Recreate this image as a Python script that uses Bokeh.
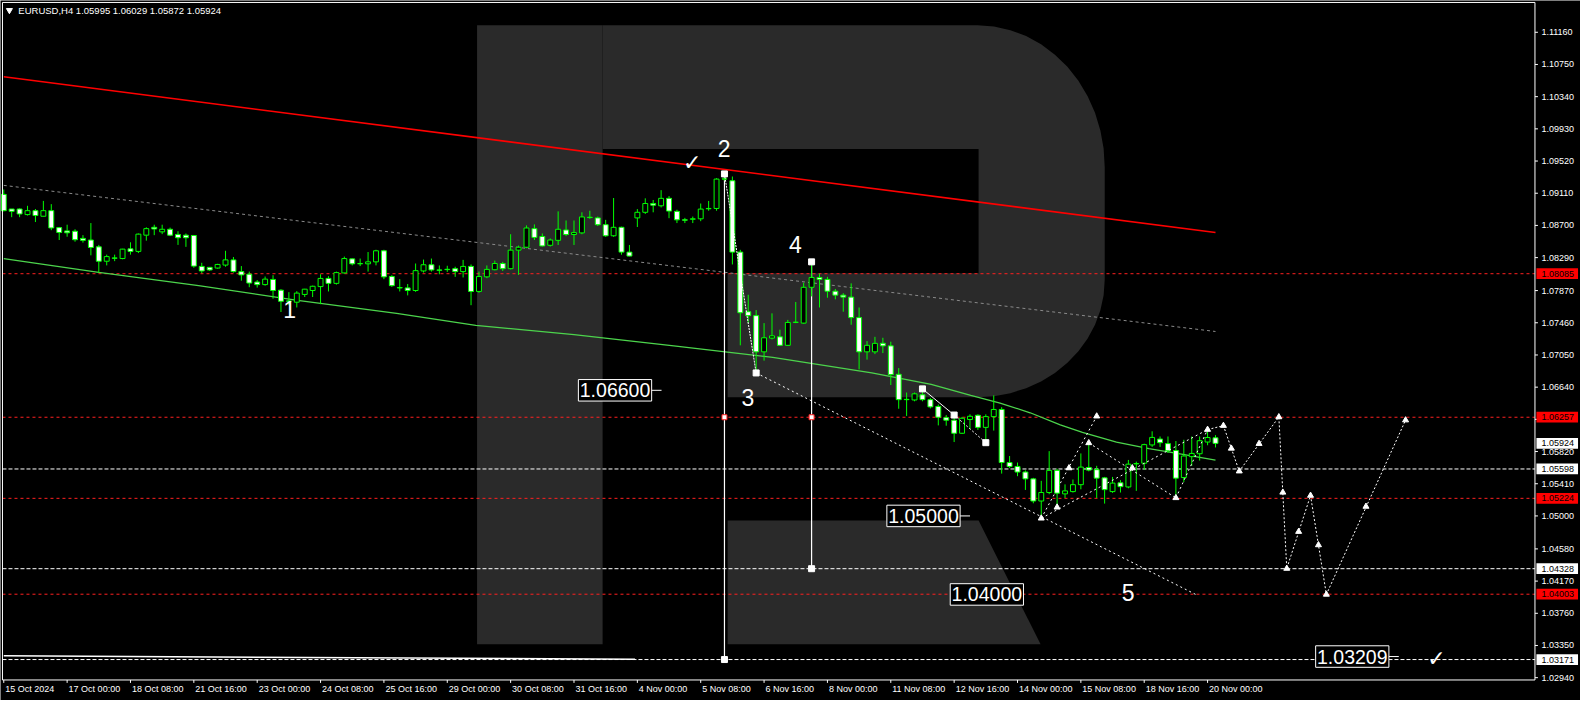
import math
from bokeh.plotting import figure
from bokeh.models import Range1d, ColumnDataSource
from bokeh.core.properties import value
from bokeh.embed import file_html
from bokeh.resources import INLINE

# ---------------- data ----------------
open_ = [1.09095,1.08909,1.08909,1.08838,1.08888,1.08817,1.08888,1.08672,1.08630,1.08626,
 1.08535,1.08514,1.08427,1.08244,1.08286,1.08278,1.08402,1.08369,1.08576,1.08676,
 1.08618,1.08651,1.08585,1.08576,1.08572,1.08178,1.08166,1.08157,1.08195,1.08261,
 1.08112,1.08079,1.07979,1.07946,1.08012,1.07875,1.07734,1.07722,1.07821,1.07871,
 1.07921,1.08025,1.07962,1.08095,1.08274,1.08211,1.08211,1.08236,1.08377,1.08049,
 1.07908,1.07904,1.07871,1.08120,1.08199,1.08133,1.08141,1.08149,1.08112,1.08178,
 1.07859,1.08045,1.08136,1.08215,1.08149,1.08385,1.08422,1.08659,1.08559,1.08447,
 1.08510,1.08642,1.08584,1.08605,1.08804,1.08796,1.08709,1.08568,1.08676,1.08360,
 1.08796,1.08867,1.08979,1.08950,1.09045,1.08879,1.08771,1.08779,1.08784,1.08912,
 1.08916,1.09290,1.09269,1.08360,1.07601,1.07551,1.07090,1.07265,1.07281,1.07173,
 1.07464,1.07456,1.07912,1.08037,1.08012,1.07862,1.07812,1.07787,1.07526,1.07090,
 1.07090,1.07199,1.07166,1.06804,1.06481,1.06477,1.06543,1.06481,1.06394,1.06252,
 1.06219,1.06053,1.06228,1.06282,1.06128,1.06265,1.06356,1.05680,1.05630,1.05559,
 1.05472,1.05190,1.05298,1.05580,1.05281,1.05310,1.05398,1.05617,1.05589,1.05485,
 1.05310,1.05422,1.05369,1.05663,1.05671,1.05904,1.05979,1.05921,1.05833,1.05489,
 1.05755,1.05792,1.05941,1.05995]
high = [1.09157,1.08909,1.08917,1.08950,1.08909,1.09012,1.08971,1.08680,1.08709,1.08651,
 1.08576,1.08730,1.08452,1.08328,1.08328,1.08402,1.08485,1.08597,1.08676,1.08709,
 1.08709,1.08672,1.08626,1.08597,1.08576,1.08224,1.08170,1.08211,1.08377,1.08298,
 1.08182,1.08112,1.08004,1.08049,1.08066,1.07888,1.07850,1.07863,1.07892,1.07933,
 1.08078,1.08054,1.08112,1.08303,1.08278,1.08278,1.08361,1.08390,1.08390,1.08066,
 1.08016,1.07954,1.08215,1.08265,1.08278,1.08190,1.08186,1.08174,1.08261,1.08203,
 1.08112,1.08190,1.08252,1.08236,1.08588,1.08443,1.08700,1.08713,1.08597,1.08534,
 1.08879,1.08763,1.08763,1.08867,1.08887,1.08813,1.08771,1.09049,1.08684,1.08451,
 1.08908,1.09045,1.09024,1.09149,1.09074,1.08900,1.08796,1.08813,1.08979,1.09012,
 1.09302,1.09356,1.09323,1.08389,1.07817,1.07622,1.07456,1.07580,1.07372,1.07497,
 1.07725,1.07970,1.08236,1.08086,1.08045,1.07891,1.07837,1.07962,1.07655,1.07227,
 1.07281,1.07269,1.07219,1.06883,1.06572,1.06572,1.06618,1.06502,1.06419,1.06286,
 1.06286,1.06261,1.06294,1.06294,1.06294,1.06535,1.06385,1.05763,1.05680,1.05580,
 1.05485,1.05447,1.05825,1.05601,1.05402,1.05464,1.05796,1.05920,1.05638,1.05497,
 1.05497,1.05456,1.05713,1.05692,1.05920,1.06078,1.06012,1.06012,1.05954,1.05970,
 1.06012,1.06012,1.06078,1.06029]
low = [1.08879,1.08805,1.08805,1.08826,1.08743,1.08817,1.08639,1.08514,1.08556,1.08493,
 1.08481,1.08319,1.08099,1.08191,1.08245,1.08269,1.08328,1.08348,1.08506,1.08576,
 1.08589,1.08564,1.08452,1.08427,1.08161,1.08091,1.08120,1.08149,1.08174,1.08099,
 1.07996,1.07913,1.07908,1.07933,1.07767,1.07597,1.07684,1.07655,1.07788,1.07788,
 1.07697,1.07859,1.07946,1.08087,1.08191,1.08182,1.08112,1.08191,1.08016,1.07917,
 1.07859,1.07809,1.07854,1.08099,1.08112,1.08078,1.08108,1.08045,1.08037,1.07684,
 1.07842,1.08028,1.08128,1.08120,1.08140,1.08070,1.08410,1.08514,1.08431,1.08431,
 1.08451,1.08564,1.08451,1.08588,1.08784,1.08692,1.08555,1.08555,1.08327,1.08306,
 1.08680,1.08846,1.08867,1.08929,1.08792,1.08730,1.08730,1.08730,1.08754,1.08887,
 1.08887,1.09273,1.08203,1.07173,1.07456,1.06833,1.06978,1.07248,1.07165,1.07165,
 1.07456,1.07447,1.07796,1.07655,1.07779,1.07759,1.07601,1.07435,1.06866,1.06991,
 1.07061,1.07074,1.06667,1.06365,1.06273,1.06460,1.06460,1.06369,1.06153,1.06149,
 1.05941,1.06045,1.06107,1.06095,1.05962,1.06087,1.05539,1.05609,1.05506,1.05331,
 1.05161,1.04966,1.05277,1.05100,1.05228,1.05298,1.05339,1.05568,1.05227,1.05157,
 1.05294,1.05298,1.05352,1.05319,1.05588,1.05879,1.05879,1.05804,1.05236,1.05431,
 1.05638,1.05705,1.05900,1.05872]
close = [1.08888,1.08879,1.08846,1.08888,1.08826,1.08888,1.08668,1.08610,1.08606,1.08518,
 1.08510,1.08419,1.08244,1.08303,1.08282,1.08398,1.08369,1.08589,1.08659,1.08655,
 1.08651,1.08576,1.08543,1.08543,1.08182,1.08120,1.08133,1.08203,1.08261,1.08112,
 1.08070,1.07966,1.07946,1.08016,1.07871,1.07734,1.07738,1.07838,1.07888,1.07925,
 1.08025,1.07962,1.08099,1.08278,1.08211,1.08215,1.08236,1.08377,1.08045,1.07933,
 1.07904,1.07871,1.08124,1.08199,1.08133,1.08129,1.08137,1.08112,1.08178,1.07859,
 1.08049,1.08140,1.08215,1.08149,1.08385,1.08422,1.08667,1.08547,1.08439,1.08514,
 1.08651,1.08584,1.08609,1.08808,1.08800,1.08709,1.08568,1.08676,1.08360,1.08310,
 1.08867,1.08979,1.08958,1.09045,1.08883,1.08771,1.08767,1.08784,1.08908,1.08916,
 1.09290,1.09294,1.08360,1.07588,1.07551,1.07090,1.07269,1.07294,1.07173,1.07464,
 1.07468,1.07912,1.08037,1.08012,1.07862,1.07812,1.07787,1.07526,1.07090,1.07173,
 1.07198,1.07166,1.06800,1.06481,1.06485,1.06555,1.06481,1.06389,1.06257,1.06219,
 1.06053,1.06244,1.06269,1.06128,1.06265,1.06356,1.05680,1.05630,1.05559,1.05472,
 1.05190,1.05298,1.05580,1.05290,1.05319,1.05398,1.05622,1.05584,1.05481,1.05335,
 1.05418,1.05373,1.05659,1.05667,1.05908,1.06000,1.05933,1.05829,1.05481,1.05763,
 1.05796,1.05958,1.05999,1.05924]

time_tick_bars = [0, 8, 16, 24, 32, 40, 48, 56, 64, 72, 80, 88, 96, 104, 112, 120, 128, 136, 144, 152]
time_tick_labels = ["15 Oct 2024", "17 Oct 00:00", "18 Oct 08:00", "21 Oct 16:00", "23 Oct 00:00",
                    "24 Oct 08:00", "25 Oct 16:00", "29 Oct 00:00", "30 Oct 08:00", "31 Oct 16:00",
                    "4 Nov 00:00", "5 Nov 08:00", "6 Nov 16:00", "8 Nov 00:00", "11 Nov 08:00",
                    "12 Nov 16:00", "14 Nov 00:00", "15 Nov 08:00", "18 Nov 16:00", "20 Nov 00:00"]
price_ticks = [1.11160, 1.10750, 1.10340, 1.09930, 1.09520, 1.09110, 1.08700, 1.08290, 1.07870,
               1.07460, 1.07050, 1.06640, 1.06230, 1.05820, 1.05410, 1.05000, 1.04580, 1.04170,
               1.03760, 1.03350, 1.02940]

# moving average (read at sample bars)
ma_bars = [0, 12, 24.6, 37.1, 49.6, 59.6, 72, 84.6, 97.1, 109.6, 117.1, 122.1, 125.8, 129.6,
           133.4, 136.2, 140.5, 144.6, 148.7, 153]
ma_vals = [1.08278, 1.08103, 1.07933, 1.07746, 1.07580, 1.07427, 1.07310, 1.07166, 1.07020,
           1.06821, 1.06675, 1.06534, 1.06438, 1.06314, 1.06161, 1.06065, 1.05940, 1.05858,
           1.05787, 1.05712]

# channel lines (bar, price)
red_chan_bars, red_chan_vals = [0, 153], [1.10593, 1.08610]
grey_chan_bars, grey_chan_vals = [0, 153], [1.09210, 1.07349]

# horizontal levels
red_levels = [1.08085, 1.06257, 1.05224, 1.04003]
white_levels = [1.05598, 1.04328, 1.03171]
current_price = 1.05924

# forecast path
fc_bars = [152, 154, 156, 161, 162, 165, 167, 177]
fc_vals = [1.0610, 1.0615, 1.0557, 1.0626, 1.0433, 1.0526, 1.0400, 1.0622]
fc_mark_bars = [152, 154, 155, 156, 158.5, 161, 161.5, 162, 163.5, 165, 166, 167, 172, 177,
                131, 133, 134.5, 137, 138, 142.5, 148]
fc_mark_vals = [1.0610, 1.0615, 1.0586, 1.0557, 1.0592, 1.0626, 1.0530, 1.0433, 1.0480, 1.0526,
                1.0463, 1.0400, 1.0512, 1.0622, 1.0497, 1.0511, 1.0561, 1.0593, 1.0627, 1.0561,
                1.0523]

# wave points
wave_bars = [91, 95, 102, 116, 120, 124, 91, 102]
wave_vals = [1.09356, 1.06821, 1.08236, 1.06618, 1.06285, 1.05933, 1.03171, 1.04328]
wave_labels = ["1", "2", "3", "4", "5"]
wave_label_bars = [36.1, 90.97, 93.97, 99.95, 141.96]
wave_label_vals = [1.07634, 1.09685, 1.06510, 1.08452, 1.04020]

target_boxes = [1.06600, 1.05000, 1.04000, 1.03209]
target_box_bars = [77.18, 116.13, 124.13, 170.27]
target_has_tail = [True, True, False, True]

# ---------------- geometry helpers (reference pixel -> data) ----------------
def bx(px):
    return (px - 3.3) / 8.0

def py(px):
    return 1.11160 - (px - 32.5) / 8031.0

BXU = 1 / 8.0      # bars per pixel
PYU = 1 / 8031.0   # price per pixel

X0, X1 = bx(0), bx(1596)
Y0, Y1 = py(716), py(0)
CL, CR, CT, CB = bx(2), bx(1550), py(2), py(695)

GREEN = "#00ff00"
FONT = "Liberation Sans"

p = figure(width=1580, height=700, x_range=Range1d(X0, X1), y_range=Range1d(Y0, Y1),
           output_backend="svg", toolbar_location=None, x_axis_location=None, y_axis_location=None,
           min_border=0, background_fill_color="black", border_fill_color="black")
p.outline_line_color = None
p.grid.visible = False

# R watermark
R_COL = "#2a2a2a"
stem_x = [bx(481.4), bx(608.2), bx(608.2), bx(481.4)]
stem_y = [py(25.4), py(25.4), py(658.5), py(658.5)]
bowl_px = [(608.2, 25.4)]
for k in range(0, 13):
    t = math.pi / 2 - k * (math.pi / 2) / 12
    bowl_px.append((986.8 + 128.6 * math.cos(t), 170.4 - 145.0 * math.sin(t)))
for k in range(0, 13):
    t = -k * (math.pi / 2) / 12
    bowl_px.append((986.8 + 128.6 * math.cos(t), 285.7 - 120.0 * math.sin(t)))
bowl_px += [(734.5, 405.7), (734.5, 279.0), (988.0, 279.0), (988.0, 151.8), (608.2, 151.8)]
leg_px = [(734.5, 532.0), (988.0, 532.0), (1050.6, 658.5), (734.5, 658.5)]
p.patch(stem_x, stem_y, fill_color=R_COL, line_color=None)
p.patch([bx(a) for a, b in bowl_px], [py(b) for a, b in bowl_px], fill_color=R_COL, line_color=None)
p.patch([bx(a) for a, b in leg_px], [py(b) for a, b in leg_px], fill_color=R_COL, line_color=None)

# levels
p.segment(x0=[CL] * len(red_levels), x1=[CR] * len(red_levels), y0=red_levels, y1=red_levels,
          line_color="#ff2020", line_dash="3 3", line_width=1)
p.segment(x0=[CL] * len(white_levels), x1=[CR] * len(white_levels), y0=white_levels, y1=white_levels,
          line_color="white", line_dash="4 2", line_width=1)

# channel lines
p.line(red_chan_bars, red_chan_vals, line_color="#ff0000", line_width=1.6)
p.line(grey_chan_bars, grey_chan_vals, line_color="#8a8a8a", line_width=1, line_dash="3 3")
p.line(ma_bars, ma_vals, line_color="#4cd44c", line_width=1.3)

# bottom-left white line & verticals
p.line([0, 79.7], [1.03218, 1.03175], line_color="white", line_width=1.5)
p.segment(x0=[91, 102], y0=[1.09356, 1.08236], x1=[91, 102], y1=[1.03171, 1.04328],
          line_color="white", line_width=1.2)

# candles
bars = list(range(len(open_)))
top = [max(o, c) for o, c in zip(open_, close)]
bot = [min(o, c) for o, c in zip(open_, close)]
fill = ["white" if c < o else "black" for o, c in zip(open_, close)]
src = ColumnDataSource(dict(x=bars, o=open_, h=high, l=low, c=close, top=top, bot=bot, fill=fill))
p.segment(x0="x", y0="l", x1="x", y1="h", source=src, line_color=GREEN, line_width=1)
p.vbar(x="x", width=0.62, top="top", bottom="bot", fill_color="fill", line_color=GREEN,
       line_width=1, source=src)

# wave lines
p.line([91, 95], [1.09356, 1.06821], line_color="white", line_width=1, line_dash="2 1")
p.line([95, 150.5], [1.06821, 1.04000], line_color="white", line_width=1, line_dash="2 3")
p.line([116, 120], [1.06618, 1.06285], line_color="white", line_width=1)
p.line([120, 124], [1.06285, 1.05933], line_color="white", line_width=1, line_dash="2 2")

# channel of last swing
p.line([131, 138], [1.0497, 1.0627], line_color="white", line_width=1, line_dash="2 3")
p.line([131, 152], [1.0497, 1.0610], line_color="white", line_width=1, line_dash="2 3")
p.line([137, 148], [1.0593, 1.0523], line_color="white", line_width=1, line_dash="2 3")
p.line([148, 152], [1.0523, 1.0610], line_color="white", line_width=1, line_dash="2 3")

# forecast
p.line(fc_bars, fc_vals, line_color="white", line_width=1, line_dash="2 2")
p.scatter(fc_mark_bars, fc_mark_vals, marker="triangle", size=6, fill_color="white", line_color="white")
p.scatter(wave_bars, wave_vals, marker="square", size=6, fill_color="white", line_color="white")
p.scatter([91, 102], [1.06257, 1.06257], marker="square", size=5, fill_color="white", line_color="#ff2020")

# wave labels & check marks
p.text(x=wave_label_bars, y=wave_label_vals, text=wave_labels, text_color="white",
       text_font=value(FONT), text_font_size="23px", text_align="center", text_baseline="middle")
p.text(x=[86.94, 180.9], y=[1.09498, 1.03185], text=["\u2713", "\u2713"], text_color="white",
       text_font=value("DejaVu Sans"), text_font_size="22px", text_align="center", text_baseline="middle")

# target boxes
TBW, TBH = 74 * BXU, 22 * PYU
p.quad(left=[b - TBW / 2 for b in target_box_bars], right=[b + TBW / 2 for b in target_box_bars],
       bottom=[v - TBH / 2 for v in target_boxes], top=[v + TBH / 2 for v in target_boxes],
       fill_color="black", line_color="white", line_width=1)
p.text(x=target_box_bars, y=target_boxes, text=[f"{v:.5f}" for v in target_boxes], text_color="white",
       text_font=value(FONT), text_font_size="19.5px", text_align="center", text_baseline="middle")
tails = [(b, v) for b, v, t in zip(target_box_bars, target_boxes, target_has_tail) if t]
p.segment(x0=[b + TBW / 2 for b, v in tails], x1=[b + TBW / 2 + 10 * BXU for b, v in tails],
          y0=[v for b, v in tails], y1=[v for b, v in tails], line_color="white", line_width=1)

# chart border
p.line([CL, CR, CR, CL, CL], [CT, CT, CB, CB, CT], line_color="white", line_width=1)

# price scale (right)
p.segment(x0=[CR] * len(price_ticks), x1=[CR + 3 * BXU] * len(price_ticks), y0=price_ticks, y1=price_ticks,
          line_color="white", line_width=1)
p.text(x=[CR + 6.5 * BXU] * len(price_ticks), y=price_ticks, text=[f"{t:.5f}" for t in price_ticks],
       text_color="white", text_font=value(FONT), text_font_size="9px", text_align="left",
       text_baseline="middle")

# time scale (bottom)
p.segment(x0=time_tick_bars, x1=time_tick_bars, y0=[CB] * len(time_tick_bars),
          y1=[CB - 3 * PYU] * len(time_tick_bars), line_color="white", line_width=1)
p.text(x=[b + 1.5 * BXU for b in time_tick_bars], y=[CB - 9.5 * PYU] * len(time_tick_bars),
       text=time_tick_labels, text_color="white", text_font=value(FONT), text_font_size="9px",
       text_align="left", text_baseline="middle")

# price tags
tag_levels = red_levels + white_levels + [current_price]
tag_fill = ["#ff0000"] * len(red_levels) + ["white"] * (len(white_levels) + 1)
TL, TR, TH = CR + 1.5 * BXU, CR + 43.5 * BXU, 5.5 * PYU
p.quad(left=[TL] * len(tag_levels), right=[TR] * len(tag_levels),
       bottom=[v - TH for v in tag_levels], top=[v + TH for v in tag_levels],
       fill_color=tag_fill, line_color=None)
p.text(x=[TL + 5 * BXU] * len(tag_levels), y=tag_levels, text=[f"{v:.5f}" for v in tag_levels],
       text_color="black", text_font=value(FONT), text_font_size="9px", text_align="left",
       text_baseline="middle")

# header
p.scatter([bx(9)], [py(10)], marker="inverted_triangle", size=6, fill_color="white", line_color="white")
p.text(x=[bx(18)], y=[py(10.5)], text=["EURUSD,H4  1.05995 1.06029 1.05872 1.05924"],
       text_color="white", text_font=value(FONT), text_font_size="9.5px", text_align="left",
       text_baseline="middle")

open("out.html", "w").write(file_html(p, INLINE))
